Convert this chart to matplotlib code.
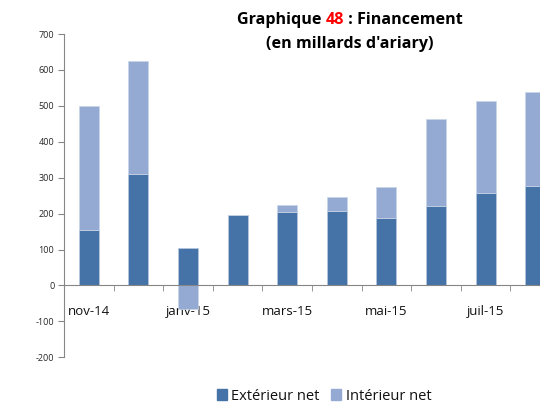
import matplotlib
matplotlib.use("Agg")
import matplotlib.pyplot as plt
import numpy as np
from matplotlib.patches import Patch

months = ["nov-14", "déc-14", "janv-15", "févr-15", "mars-15",
          "avr-15", "mai-15", "juin-15", "juil-15", "août-15"]
exterieur = [154, 310, 104, 195, 204, 206, 188, 220, 257, 277]
interieur = [346, 315, -65, 0, 21, 39, 86, 242, 257, 262]
yticks = [-200, -100, 0, 100, 200, 300, 400, 500, 600, 700]

c_ext = "#4572A7"
c_int = "#94AAD2"

fig = plt.figure(figsize=(5.4, 4.04), dpi=100)
ax = fig.add_axes([64 / 540, 1 - 357.3 / 404, 496 / 540, (357.3 - 34) / 404])

x = np.arange(len(months)) + 0.5
ext = np.array(exterieur)
inn = np.array(interieur)
bottom_int = np.where(inn >= 0, ext, 0)

ax.bar(x, ext, width=0.4, color=c_ext, edgecolor="#B8C7E0", linewidth=0.5, zorder=2)
ax.bar(x, inn, width=0.4, bottom=bottom_int, color=c_int, edgecolor="#C8D4E8",
       linewidth=0.5, zorder=2)

ax.set_xlim(0, len(months))
ax.set_ylim(-200, 700)

for s in ["top", "right"]:
    ax.spines[s].set_visible(False)
ax.spines["bottom"].set_position(("data", 0))
ax.spines["bottom"].set_color("#868686")
ax.spines["left"].set_color("#868686")
ax.spines["bottom"].set_zorder(3)

ax.set_yticks(yticks)
ax.set_yticklabels([str(v) for v in yticks], fontsize=6.5, color="#262626",
                   family="Open Sans")
ax.tick_params(axis="y", direction="out", length=4, color="#868686", pad=3)

ax.set_xticks(x[::2])
ax.set_xticklabels(months[::2], fontsize=9.5, family="Open Sans", color="#111111")
ax.set_xticks(np.arange(1, len(months) + 1), minor=True)
ax.tick_params(axis="x", which="major", length=0, pad=14)
ax.tick_params(axis="x", which="minor", direction="out", length=4, color="#868686")
for lab in ax.get_xticklabels():
    lab.set_zorder(4)

# title with a red figure number
fig.canvas.draw()
r = fig.canvas.get_renderer()
parts = [("Graphique ", "black"), ("48", "red"), (" : Financement", "black")]
tprops = dict(fontsize=11.6, fontweight="bold", family="Open Sans")
texts = [fig.text(0, 0, p, color=c, **tprops) for p, c in parts]
widths = [t.get_window_extent(r).width for t in texts]
xpos = 349.5 - sum(widths) / 2
for t, w in zip(texts, widths):
    t.set_position((xpos / 540, 1 - 20 / 404))
    t.set_va("center")
    xpos += w
fig.text(349.5 / 540, 1 - 44 / 404, "(en millards d'ariary)", ha="center", va="center",
         **tprops)

handles = [Patch(color=c_ext, label="Extérieur net"), Patch(color=c_int, label="Intérieur net")]
fig.legend(handles=handles, loc="center", bbox_to_anchor=(324 / 540, 1 - 396 / 404),
           ncol=2, frameon=False, prop={"family": "Open Sans", "size": 10.5},
           handlelength=0.7, handleheight=0.7, handletextpad=0.3, columnspacing=0.8,
           labelcolor="#111111")

fig.savefig("out.png", dpi=100)
